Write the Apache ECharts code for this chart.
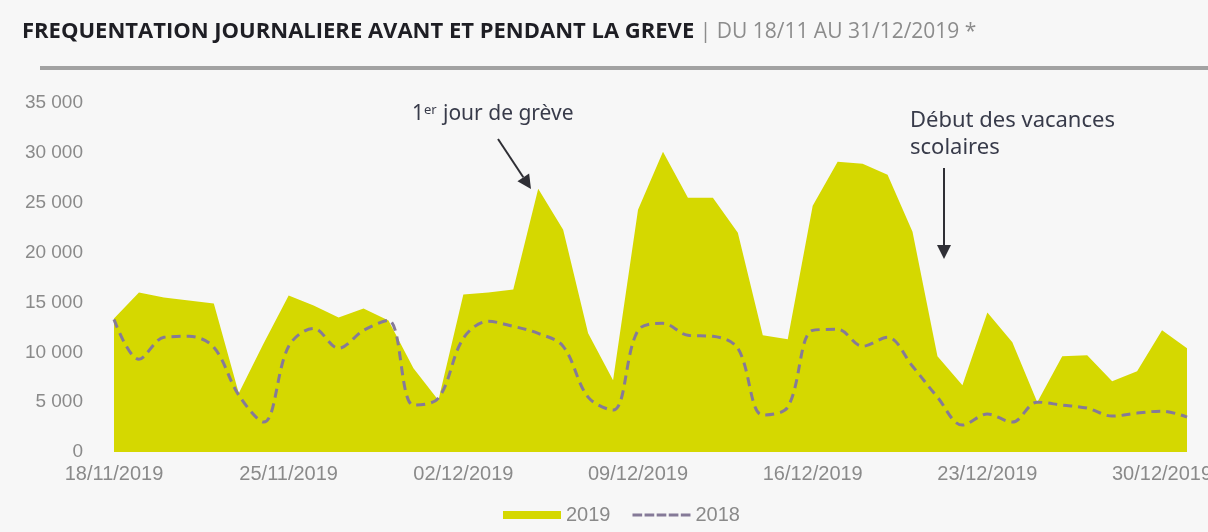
<!DOCTYPE html>
<html>
<head>
<meta charset="utf-8">
<style>
  html, body { margin: 0; padding: 0; background: #f7f7f7; }
  #chart { width: 1208px; height: 532px; }
</style>
<script src="https://cdn.jsdelivr.net/npm/echarts@6/dist/echarts.min.js"></script>
</head>
<body>
<div id="chart"></div>
<script>
const days = [
  '18/11/2019', '19/11/2019', '20/11/2019', '21/11/2019', '22/11/2019', '23/11/2019', '24/11/2019',
  '25/11/2019', '26/11/2019', '27/11/2019', '28/11/2019', '29/11/2019', '30/11/2019', '01/12/2019',
  '02/12/2019', '03/12/2019', '04/12/2019', '05/12/2019', '06/12/2019', '07/12/2019', '08/12/2019',
  '09/12/2019', '10/12/2019', '11/12/2019', '12/12/2019', '13/12/2019', '14/12/2019', '15/12/2019',
  '16/12/2019', '17/12/2019', '18/12/2019', '19/12/2019', '20/12/2019', '21/12/2019', '22/12/2019',
  '23/12/2019', '24/12/2019', '25/12/2019', '26/12/2019', '27/12/2019', '28/12/2019', '29/12/2019',
  '30/12/2019', '31/12/2019',
]
const values2019 = [
  13400, 16000, 15500, 15200, 14900, 5900, 10900,
  15700, 14700, 13500, 14400, 13200, 8400, 5200,
  15800, 16000, 16300, 26400, 22300, 11900, 7200,
  24300, 30100, 25500, 25500, 22000, 11700, 11300,
  24700, 29100, 28900, 27800, 22100, 9600, 6700,
  14000, 11000, 5000, 9600, 9700, 7100, 8100,
  12200, 10400,
]
const values2018 = [
  13300, 9300, 11500, 11600, 10500, 5700, 3000,
  10600, 12400, 10400, 12200, 13200, 4700, 5400,
  11400, 13100, 12600, 11900, 10600, 5500, 4200,
  12200, 12900, 11700, 11600, 10400, 3700, 4500,
  12200, 12300, 10600, 11500, 8600, 5500, 2700,
  3800, 3000, 5000, 4700, 4400, 3600, 3900,
  4100, 3500,
]
const yTicks = { min: 0, max: 35000, step: 5000 }

const chart = echarts.init(document.getElementById('chart'))

const arrow = (x1, y1, x2, y2) => {
  const a = Math.atan2(y2 - y1, x2 - x1)
  const len = 14
  const w = 7
  const bx = x2 - len * Math.cos(a)
  const by = y2 - len * Math.sin(a)
  return [{
    type: 'line',
    shape: { x1, y1, x2: bx, y2: by },
    style: { stroke: '#2f2f35', lineWidth: 2 },
  }, {
    type: 'polygon',
    shape: {
      points: [
        [x2, y2],
        [bx + w * Math.sin(a), by - w * Math.cos(a)],
        [bx - w * Math.sin(a), by + w * Math.cos(a)],
      ],
    },
    style: { fill: '#2f2f35' },
  }]
}

const noteFont = '"Noto Sans", sans-serif'
const axisFont = '"Liberation Sans", Arial, sans-serif'
// five dashes, used as the legend icon of the 2018 line
const dashIcon = 'path://M0,0h10v3h-10z M12.5,0h10v3h-10z M25,0h10v3h-10z M37.5,0h10v3h-10z M50,0h10v3h-10z'

const option = {
  backgroundColor: '#f7f7f7',
  animation: false,
  title: {
    left: 17,
    top: 16,
    text: '{b|FREQUENTATION JOURNALIERE AVANT ET PENDANT LA GREVE}{n| | DU 18/11 AU 31/12/2019 *}',
    textStyle: {
      rich: {
        b: { fontFamily: '"Open Sans", sans-serif', fontWeight: 'bold', fontSize: 22, color: '#1e1e24' },
        n: { fontFamily: '"Open Sans", sans-serif', fontWeight: 'normal', fontSize: 21, color: '#8c8c8c' },
      },
    },
  },
  grid: {
    left: 114, right: 21, top: 103, bottom: 80, containLabel: false, outerBoundsMode: 'none',
  },
  legend: {
    bottom: 2,
    left: 498,
    itemWidth: 58,
    itemHeight: 8,
    itemGap: 22,
    textStyle: { fontFamily: axisFont, fontSize: 20, color: '#8a8a8a' },
    data: [
      { name: '2019', icon: 'rect' },
      { name: '2018', icon: dashIcon, itemStyle: { color: '#857a98' } },
    ],
  },
  xAxis: {
    type: 'category',
    data: days,
    boundaryGap: false,
    axisLine: { show: false },
    axisTick: { show: false },
    axisLabel: {
      interval: 6,
      margin: 12,
      fontFamily: axisFont,
      fontSize: 20,
      color: '#8a8a8a',
    },
  },
  yAxis: {
    type: 'value',
    min: yTicks.min,
    max: yTicks.max,
    interval: yTicks.step,
    splitLine: { show: false },
    axisLine: { show: false },
    axisTick: { show: false },
    axisLabel: {
      margin: 31,
      fontFamily: axisFont,
      fontSize: 19,
      color: '#8a8a8a',
      formatter: (v) => String(v).replace(/\B(?=(\d{3})+(?!\d))/g, ' '),
    },
  },
  series: [
    {
      name: '2019',
      type: 'line',
      data: values2019,
      symbol: 'none',
      itemStyle: { color: '#d5d800' },
      lineStyle: { width: 0, color: '#d5d800' },
      areaStyle: { color: '#d5d800', opacity: 1 },
    },
    {
      name: '2018',
      type: 'line',
      data: values2018,
      symbol: 'none',
      smooth: 0.35,
      itemStyle: { color: '#857a98' },
      lineStyle: { width: 3, color: '#857a98', type: [9, 6] },
    },
  ],
  graphic: [
    { type: 'text', left: 412, top: 104, style: { text: '1', font: `21px ${noteFont}`, fill: '#383b4a' } },
    { type: 'text', left: 424, top: 104, style: { text: 'er', font: `13px ${noteFont}`, fill: '#383b4a' } },
    { type: 'text', left: 443, top: 104, style: { text: 'jour de grève', font: `21px ${noteFont}`, fill: '#383b4a' } },
    ...arrow(498, 139, 531, 189),
    { type: 'text', left: 910, top: 110, style: { text: 'Début des vacances', font: `22px ${noteFont}`, fill: '#383b4a' } },
    { type: 'text', left: 910, top: 137, style: { text: 'scolaires', font: `22px ${noteFont}`, fill: '#383b4a' } },
    ...arrow(944, 168, 944, 259),
    {
      type: 'rect',
      shape: { x: 40, y: 66, width: 1168, height: 4 },
      style: { fill: '#a2a2a2' },
    },
  ],
}

chart.setOption(option)
</script>
</body>
</html>
